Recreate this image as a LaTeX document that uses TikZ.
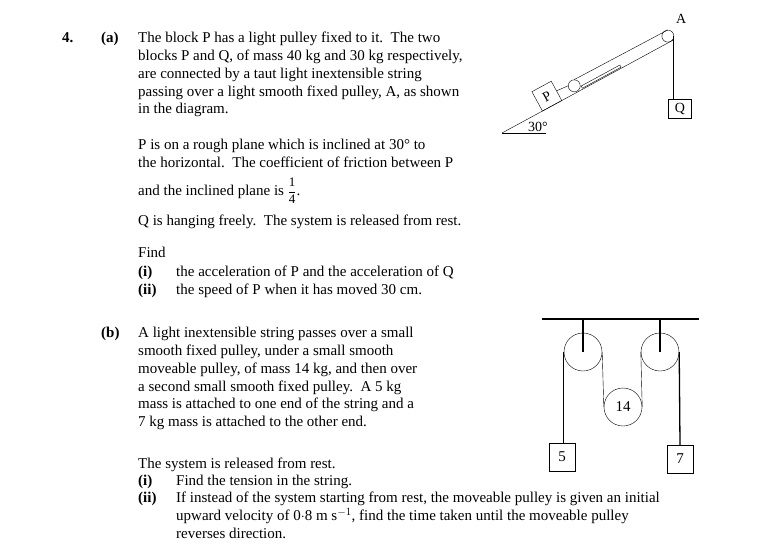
\documentclass[tikz,border=0pt]{standalone}
\usepackage{fontspec}
\usepackage{amsmath}
\setmainfont{Liberation Serif}
\begin{document}
\begin{tikzpicture}[x=1pt,y=-1pt,
  txt/.style={anchor=north west,inner sep=0pt,align=left,font=\fontsize{15}{17.8}\selectfont},
  hd/.style={txt,font=\bfseries\fontsize{15}{17}\selectfont},
  blk/.style={draw,minimum width=26pt,minimum height=28pt,inner sep=0pt,font=\fontsize{15}{17}\selectfont},
  pul/.style={circle,draw,inner sep=0pt,minimum size=38pt}]
  \useasboundingbox (0,0) rectangle (767,548);
  % question text
  \node[hd] (num) at (62,32) {4.};
  \node[hd] (parta) at (101,32) {(a)};
  \node[txt] (ta1) at (138,32) {The block P has a light pulley fixed to it.\ \ The two\\
    blocks P and Q, of mass 40 kg and 30 kg respectively,\\
    are connected by a taut light inextensible string\\
    passing over a light smooth fixed pulley, A, as shown\\
    in the diagram.};
  \node[txt] (ta2) at (138,139) {P is on a rough plane which is inclined at 30° to\\
    the horizontal.\ \ The coefficient of friction between P};
  \node[anchor=base west,inner sep=0pt,font=\fontsize{15}{17}\selectfont] (ta3) at (138,195)
    {and the inclined plane is {\fontsize{13}{13}\selectfont$\genfrac{}{}{}{0}{\text{1}}{\text{4}}$}.};
  \node[txt] (ta4) at (138,215) {Q is hanging freely.\ \ The system is released from rest.};
  \node[txt] (ta5) at (138,247) {Find};
  \node[hd] (ai) at (138,266) {(i)};
  \node[txt] (ait) at (176,266) {the acceleration of P and the acceleration of Q};
  \node[hd] (aii) at (138,284) {(ii)};
  \node[txt] (aiit) at (176,284) {the speed of P when it has moved 30 cm.};
  \node[hd] (partb) at (101,327) {(b)};
  \node[txt] (tb1) at (138,327) {A light inextensible string passes over a small\\
    smooth fixed pulley, under a small smooth\\
    moveable pulley, of mass 14 kg, and then over\\
    a second small smooth fixed pulley.\ \ A 5 kg\\
    mass is attached to one end of the string and a\\
    7 kg mass is attached to the other end.};
  \node[txt] (tb2) at (138,458) {The system is released from rest.};
  \node[hd] (bi) at (138,475) {(i)};
  \node[txt] (bit) at (176,475) {Find the tension in the string.};
  \node[hd] (bii) at (138,492) {(ii)};
  \node[txt] (biit) at (176,492) {If instead of the system starting from rest, the moveable pulley is given an initial\\
    upward velocity of 0$\cdot$8 m s$^{-1}$, find the time taken until the moveable pulley\\
    reverses direction.};
  % inclined plane
  \draw[thick] (502,133) -- (546,133);
  \node[txt,font=\fontsize{14}{17}\selectfont] (ang) at (528,122) {30°};
  \begin{scope}[shift={(502,133)},rotate=28.5]
    \draw (0,0) -- (195,0);
    \node[circle,draw,inner sep=0pt,minimum size=12pt] (A) at (192,-6) {};
    \node[circle,draw,inner sep=0pt,minimum size=12pt] (pp) at (86,-7) {};
    \node[draw,minimum size=22pt,inner sep=0pt,rotate=28.5,font=\fontsize{14}{17}\selectfont] (P) at (57,-11) {P};
    \draw (P.east) -- (pp.west);
    \draw (pp.north) -- (A.north);
    \draw (92,-1) rectangle (136,-3.5);
  \end{scope}
  \node[txt,font=\fontsize{14}{17}\selectfont] (lA) at (676,14) {A};
  \node[draw,minimum width=23pt,minimum height=19pt,inner sep=0pt,font=\fontsize{14}{17}\selectfont] (Q) at (680,109) {Q};
  \coordinate (Ar) at ([xshift=6pt]A.center);
  \draw[thick] (Ar) -- (Ar |- Q.north);
  % pulley system
  \draw[line width=1.6pt] (542,319) -- (699,319);
  \node[pul] (fl) at (583,352) {};
  \node[pul] (fr) at (660,352) {};
  \node[pul,font=\fontsize{15}{17}\selectfont] (mv) at (623,407) {14};
  \draw[line width=1.3pt] (583,319) -- (fl.center);
  \draw[line width=1.3pt] (660,319) -- (fr.center);
  \node[blk] (m5) at (562,457) {5};
  \node[blk] (m7) at (680,459) {7};
  \draw[line width=1.3pt] (fl.west) -- (fl.west |- m5.north);
  \draw[line width=1.3pt] (fr.east) -- (m7.north);
  \draw (fl.east) -- (mv.west);
  \draw (fr.west) -- (mv.east);
\end{tikzpicture}
\end{document}
